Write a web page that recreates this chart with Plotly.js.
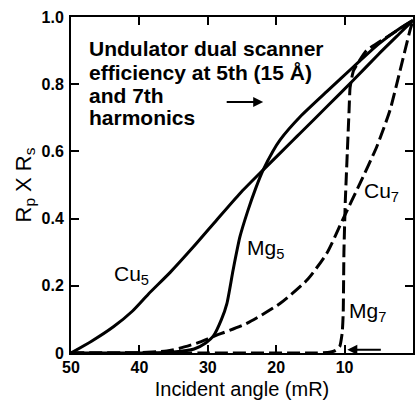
<!DOCTYPE html>
<html><head><meta charset="utf-8">
<script src="https://cdn.plot.ly/plotly-3.0.1.min.js"></script>
<style>html,body{margin:0;padding:0;background:#fff}#chart{width:416px;height:406px}</style>
</head><body><div id="chart"></div>
<script>
// Incident angle (mR) and R_p x R_s values
const cu5X = [50, 47, 43.8, 41, 38.7, 35.5, 32.1, 28.7, 25.3, 21.9, 17.5, 16.5, 12.5, 8.7, 5, 2, 0];
const cu5Y = [0, 0.035, 0.078, 0.125, 0.175, 0.24, 0.316, 0.396, 0.475, 0.545, 0.634, 0.654, 0.735, 0.8125, 0.89, 0.95, 0.99];

const mg5X = [50, 40, 35, 32, 30.3, 29.2, 28.0, 27.2, 26.3, 25.3, 24.2, 23, 21.9, 20.5, 19.4, 16.5, 12.5, 8.7, 5, 2, 0];
const mg5Y = [0, 0, 0.003, 0.012, 0.03, 0.05, 0.1, 0.148, 0.247, 0.346, 0.42, 0.49, 0.545, 0.6, 0.635, 0.703, 0.78, 0.852, 0.92, 0.965, 0.99];

const cu7X = [50, 40, 36, 34.1, 31.5, 29.2, 24.3, 19.4, 15.5, 12.6, 10.2, 7.75, 5.3, 3.36, 1.9, 0.44, 0];
const cu7Y = [0, 0.001, 0.006, 0.014, 0.03, 0.049, 0.088, 0.148, 0.217, 0.297, 0.40, 0.505, 0.614, 0.723, 0.84, 0.96, 0.99];

const mg7X = [50, 30, 14, 12.2, 11.3, 10.7, 10.35, 10.2, 10.1, 9.9, 9.6, 9.35, 9.2, 8.7, 6.8, 3.85, 0];
const mg7Y = [0, 0, 0, 0.002, 0.008, 0.02, 0.06, 0.12, 0.3, 0.45, 0.6, 0.72, 0.79, 0.84, 0.90, 0.94, 0.99];

const xTicks = [50, 40, 30, 20, 10, 0];
const xTickText = ['50', '40', '30', '20', '10', '0'];
const yTicks = [0, 0.2, 0.4, 0.6, 0.8, 1.0];
const yTickText = ['0', '0.2', '0.4', '0.6', '0.8', '1.0'];

const titleLines = ['Undulator dual scanner', 'efficiency at 5th (15 Å)', 'and 7th', 'harmonics'];

const solid = {color: '#000', width: 3, shape: 'spline', smoothing: 0.6};
const dashed = {color: '#000', width: 3, dash: '13px,5px', shape: 'spline', smoothing: 0.6};

const traces = [
  {x: cu5X, y: cu5Y, mode: 'lines', line: solid, name: 'Cu5'},
  {x: mg5X, y: mg5Y, mode: 'lines', line: solid, name: 'Mg5'},
  {x: cu7X, y: cu7Y, mode: 'lines', line: dashed, name: 'Cu7'},
  {x: mg7X, y: mg7Y, mode: 'lines', line: Object.assign({}, dashed, {smoothing: 0.4}), name: 'Mg7'}
];

const fam = '"Liberation Sans", Arial, sans-serif';
const lab = (txt, x, y) => ({text: txt, xref: 'paper', yref: 'paper', x: x, y: y, xanchor: 'left', yanchor: 'middle', showarrow: false, font: {family: fam, size: 21, color: '#000'}});

const lineY = [0.905, 0.835, 0.766, 0.701];
const titleAnns = titleLines.map((t, i) => ({
  text: '<b>' + t + '</b>', xref: 'paper', yref: 'paper', x: 0.047, y: lineY[i],
  xanchor: 'left', yanchor: 'middle', align: 'left', showarrow: false,
  font: {family: fam, size: 21, color: '#000'}
}));

const layout = {
  width: 416, height: 406,
  margin: {l: 71, r: 3, t: 17, b: 53},
  paper_bgcolor: '#fff', plot_bgcolor: '#fff',
  showlegend: false,
  xaxis: {
    range: [50, 0], tickvals: xTicks, ticktext: xTickText,
    ticks: 'inside', ticklen: 8, tickwidth: 2, tickcolor: '#000',
    showline: true, linewidth: 2, linecolor: '#000', mirror: 'ticks',
    showgrid: false, zeroline: false, ticklabelstandoff: -1,
    tickfont: {family: fam, size: 16, color: '#000', weight: 'bold'},
    title: {text: 'Incident angle (mR)', font: {family: fam, size: 20, color: '#000'}, standoff: 7}
  },
  yaxis: {
    range: [0, 1.0], tickvals: yTicks, ticktext: yTickText,
    ticks: 'inside', ticklen: 8, tickwidth: 2, tickcolor: '#000',
    showline: true, linewidth: 2, linecolor: '#000', mirror: 'ticks',
    showgrid: false, zeroline: false, ticklabelstandoff: 2,
    tickfont: {family: fam, size: 16, color: '#000', weight: 'bold'},
    title: {text: 'R<sub>p</sub> X R<sub>s</sub>', font: {family: fam, size: 22, color: '#000'}, standoff: 4}
  },
  annotations: titleAnns.concat([
    {text: '', xref: 'x', yref: 'y', x: 21.9, y: 0.747, ax: -38, ay: 0, showarrow: true, arrowhead: 2, arrowsize: 1, arrowwidth: 2, arrowcolor: '#000'},
    {text: '', xref: 'x', yref: 'y', x: 9.6, y: 0.01, ax: 35, ay: 0, showarrow: true, arrowhead: 2, arrowsize: 1, arrowwidth: 2, arrowcolor: '#000'},
    lab('Cu<sub>5</sub>', 0.12, 0.232),
    lab('Mg<sub>5</sub>', 0.51, 0.31),
    lab('Cu<sub>7</sub>', 0.852, 0.48),
    lab('Mg<sub>7</sub>', 0.808, 0.122)
  ])
};

Plotly.newPlot('chart', traces, layout, {staticPlot: true, displayModeBar: false});
</script></body></html>
